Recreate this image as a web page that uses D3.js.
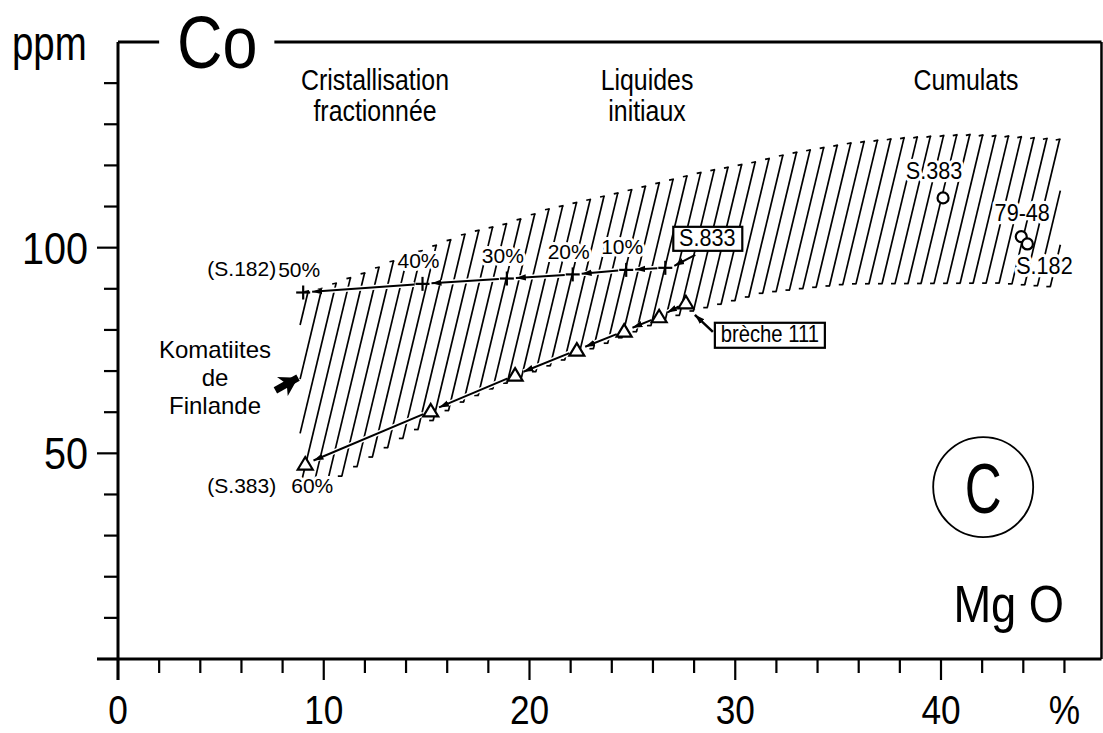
<!DOCTYPE html>
<html>
<script src="https://d3js.org/d3.v7.min.js"></script>

<head>
    <style>
        body {
            margin: 0;
            background-color: #fff;
        }

        svg {
            display: block;
            font-family: "Liberation Sans", Arial, sans-serif;
        }
    </style>
</head>

<body>
</body>
<script>
    const width = 1103,
        height = 733;

    // fractional crystallisation from S.833 (crosses) and from breche 111 (triangles)
    const plusMgO = [9.0, 14.8, 18.9, 22.1, 24.7, 26.6];
    const plusCo = [89.1, 91.2, 92.5, 93.5, 94.6, 95.1];
    const plusLabels = ["50%", "40%", "30%", "20%", "10%"];

    const triMgO = [9.1, 15.2, 19.3, 22.3, 24.6, 26.3, 27.6];
    const triCo = [47.4, 60.3, 69.0, 75.1, 79.7, 83.2, 86.6];

    // cumulates
    const cumMgO = [40.1, 43.9, 44.2];
    const cumCo = [112.1, 102.7, 100.9];
    const cumLabels = ["S.383", "79-48", "S.182"];

    // hatched field of the Finnish komatiites
    const topMgO = [8.9, 10, 11, 12.4, 13.1, 15.1, 17, 19, 20.9, 22.8, 24.7, 26.6, 28.4, 30.9, 32.7, 35.6, 38, 41.2, 43.2, 45.8];
    const topCo = [89.2, 90.2, 92.2, 94.6, 96.3, 99.9, 103.6, 106, 109.4, 111.6, 113.8, 116.2, 118.4, 120.8, 123, 125.5, 126.7, 127.6, 127.2, 126.4];
    const lowMgO = [9.2, 10.9, 12.3, 13.7, 15.2, 16.5, 18.4, 19.3, 22.3, 24.6, 26.3, 27.8, 29.6, 31.4, 33.2, 35.6, 42.9, 45.7];
    const lowCo = [41.1, 44.5, 48.9, 53.2, 57.6, 61.8, 66.1, 67.8, 73.9, 78.3, 81.9, 84.4, 86.6, 89.0, 90.0, 91.2, 91.4, 90.4];

    const xTicks = d3.range(0, 47, 2);
    const xLabels = [0, 10, 20, 30, 40];
    const yTicks = d3.range(0, 150, 10);
    const yLabels = [50, 100];

    const svg = d3.select("body").append("svg").attr("width", width).attr("height", height);
    const x = d3.scaleLinear().domain([0, 40]).range([118, 941]);
    const y = d3.scaleLinear().domain([0, 150]).range([659, 42]);
    const xEnd = 47.8;

    svg.append("defs").append("marker")
        .attr("id", "head")
        .attr("markerUnits", "userSpaceOnUse")
        .attr("markerWidth", 12).attr("markerHeight", 8)
        .attr("refX", 10).attr("refY", 4)
        .attr("orient", "auto")
        .append("path").attr("d", "M0,0.8L10,4L0,7.2Z").attr("fill", "black");
    svg.select("defs").append("marker")
        .attr("id", "bighead")
        .attr("markerUnits", "userSpaceOnUse")
        .attr("markerWidth", 24).attr("markerHeight", 22)
        .attr("refX", 18).attr("refY", 11)
        .attr("orient", "auto")
        .append("path").attr("d", "M0,0L18,11L0,22L5,11Z").attr("fill", "black");

    function line(x1, y1, x2, y2, w) {
        return svg.append("line")
            .attr("x1", x1).attr("y1", y1).attr("x2", x2).attr("y2", y2)
            .attr("stroke", "black").attr("stroke-width", w || 2);
    }

    // narrow lettering: scale glyphs horizontally around the anchor point
    function txt(str, px, py, size, o) {
        o = o || {};
        const t = svg.append("text")
            .attr("transform", `translate(${px},${py}) scale(${o.sx || 1},1)`)
            .attr("font-size", size)
            .attr("text-anchor", o.anchor || "middle")
            .text(str);
        if (o.mid) t.attr("dominant-baseline", "middle");
        if (o.halo) t.attr("stroke", "white").attr("stroke-width", 6 / (o.sx || 1))
            .attr("paint-order", "stroke").attr("stroke-linejoin", "round");
        return t;
    }

    function drawHatch() {
        const up = topMgO.map((m, i) => [x(m), y(topCo[i])]);
        const lo = lowMgO.map((m, i) => [x(m), y(lowCo[i])]);
        const yAt = (c, px) => {
            if (px <= c[0][0]) return c[0][1];
            if (px >= c[c.length - 1][0]) return c[c.length - 1][1];
            let i = 1;
            while (px > c[i][0]) i++;
            const t = (px - c[i - 1][0]) / (c[i][0] - c[i - 1][0]);
            return c[i - 1][1] + t * (c[i][1] - c[i - 1][1]);
        };
        const slant = 0.24, gap = 13;
        const xl = x(8.85), xr = x(45.8);
        const meet = (c, k) => {
            let a = 0, b = height;
            for (let n = 0; n < 40; n++) {
                const m = (a + b) / 2;
                if (m - yAt(c, k + slant * (height - m)) < 0) a = m; else b = m;
            }
            return [k + slant * (height - a), a];
        };
        const g = svg.append("g").attr("stroke", "black").attr("stroke-width", 1.7);
        for (let k = xl - slant * height; k < xr; k += gap) {
            let top = meet(up, k), bot = meet(lo, k);
            let tb = true, bb = true;
            if (top[0] < xl || bot[0] > xr) continue;
            if (bot[0] < xl) { bot = [xl, height - (xl - k) / slant]; bb = false; }
            if (top[0] > xr) { top = [xr, height - (xr - k) / slant]; tb = false; }
            if (bot[1] - top[1] < 4) continue;
            g.append("line").attr("x1", bot[0]).attr("y1", bot[1]).attr("x2", top[0]).attr("y2", top[1]);
            if (tb) g.append("line").attr("x1", top[0] - 4).attr("y1", top[1] + 1).attr("x2", top[0] + 0.8).attr("y2", top[1]);
            if (bb) g.append("line").attr("x1", bot[0] - 4).attr("y1", bot[1]).attr("x2", bot[0] + 0.5).attr("y2", bot[1]);
        }
    }

    function trend(mgo, co) {
        for (let i = 0; i < mgo.length - 1; i++) {
            const x1 = x(mgo[i + 1]), y1 = y(co[i + 1]), x2 = x(mgo[i]), y2 = y(co[i]);
            const d = Math.hypot(x2 - x1, y2 - y1), ux = (x2 - x1) / d, uy = (y2 - y1) / d;
            line(x1 + ux * 8, y1 + uy * 8, x2 - ux * 9, y2 - uy * 9, 5).attr("stroke", "white");
            line(x1 + ux * 8, y1 + uy * 8, x2 - ux * 9, y2 - uy * 9, 2).attr("marker-end", "url(#head)");
        }
    }

    function draw() {
        drawHatch();

        // frame and axes
        line(x(0), y(150), x(0), y(0) + 21, 3);
        line(x(0) - 21, y(0), x(xEnd), y(0), 3);
        line(x(xEnd), y(150), x(xEnd), y(0), 2.5);
        line(x(0), y(150), x(2), y(150), 3);
        line(x(7.6), y(150), x(xEnd), y(150), 3);
        xTicks.forEach(t => line(x(t), y(0), x(t), y(0) + (t % 10 === 0 ? 21 : 14), 2.2));
        yTicks.forEach(t => line(x(0), y(t), x(0) - (t % 50 === 0 ? 21 : 14), y(t), 2.2));
        xLabels.forEach(t => txt(t, x(t), 724, 41, { sx: 0.86 }));
        txt("%", x(46), 724, 41, { sx: 0.86 });
        yLabels.forEach(t => txt(t, x(0) - 30, y(t) + 16, 45, { anchor: "end", sx: 0.88 }));
        txt("ppm", 12, 60, 48, { anchor: "start", sx: 0.8 });
        txt("Co", 177, 68, 74, { anchor: "start", sx: 0.85 });
        txt("Mg O", 1064, 622, 52, { anchor: "end", sx: 0.87 });

        // headings
        [["Cristallisation", "fractionnée", 375], ["Liquides", "initiaux", 647], ["Cumulats", "", 966]]
            .forEach(h => {
                txt(h[0], h[2], 90, 30, { sx: 0.83 });
                txt(h[1], h[2], 121, 30, { sx: 0.83 });
            });

        trend(plusMgO, plusCo);
        trend(triMgO, triCo);

        // crosses
        plusMgO.forEach((m, i) => {
            const px = x(m), py = y(plusCo[i]);
            line(px - 7, py, px + 7, py, 2.2);
            line(px, py - 7, px, py + 7, 2.2);
        });
        plusLabels.forEach((t, i) => {
            txt(t, x(plusMgO[i]) - 4, y(plusCo[i]) - 21, 21, { mid: true, halo: true });
        });
        txt("(S.182)", x(plusMgO[0]) - 27, y(plusCo[0]) - 22, 21, { anchor: "end", mid: true, halo: true });

        // triangles
        svg.selectAll(".tri").data(triMgO).join("path")
            .attr("transform", (m, i) => `translate(${x(m)},${y(triCo[i])})`)
            .attr("d", "M0,-7L7.5,5.5L-7.5,5.5Z")
            .attr("fill", "white").attr("stroke", "black").attr("stroke-width", 2.2);
        txt("60%", x(triMgO[0]) + 7, y(triCo[0]) + 23, 21, { mid: true, halo: true });
        txt("(S.383)", x(triMgO[0]) - 29, y(triCo[0]) + 23, 21, { anchor: "end", mid: true, halo: true });

        // S.833 box
        const sx = x(plusMgO[5]) + 42, sy = y(plusCo[5]) - 29;
        line(sx - 12, sy + 16, x(plusMgO[5]) + 9, y(plusCo[5]) - 2, 2).attr("marker-end", "url(#head)");
        svg.append("rect").attr("x", sx - 34).attr("y", sy - 12).attr("width", 69).attr("height", 24)
            .attr("fill", "white").attr("stroke", "black").attr("stroke-width", 2.2);
        txt("S.833", sx, sy + 1, 24, { mid: true, sx: 0.9 });

        // breche 111 box
        const tx = x(triMgO[6]) + 84, ty = y(triCo[6]) + 32;
        line(tx - 57, ty - 3, x(triMgO[6]) + 9, y(triCo[6]) + 12, 2.5).attr("marker-end", "url(#head)");
        svg.append("rect").attr("x", tx - 55).attr("y", ty - 12).attr("width", 110).attr("height", 25)
            .attr("fill", "white").attr("stroke", "black").attr("stroke-width", 2.2);
        txt("brèche 111", tx, ty + 1, 23, { mid: true, sx: 0.88 });

        // cumulates
        const offs = [[-9, -25], [1, -22], [17, 24]];
        cumLabels.forEach((t, i) => txt(t, x(cumMgO[i]) + offs[i][0], y(cumCo[i]) + offs[i][1], 23,
            { mid: true, halo: true, sx: 0.94 }));
        svg.selectAll(".cum").data(cumMgO).join("circle")
            .attr("cx", d => x(d)).attr("cy", (d, i) => y(cumCo[i])).attr("r", 5.5)
            .attr("fill", "white").attr("stroke", "black").attr("stroke-width", 2.2);

        // Komatiites de Finlande
        ["Komatiites", "de", "Finlande"].forEach((t, i) => txt(t, 215, 352 + i * 28, 24, { mid: true }));
        line(x(7.65), y(65.3), x(8.75), y(68.4), 7).attr("marker-end", "url(#bighead)");

        // panel letter
        svg.append("circle").attr("cx", x(42.05)).attr("cy", y(41.8)).attr("r", 50)
            .attr("fill", "none").attr("stroke", "black").attr("stroke-width", 1.8);
        txt("C", x(42.05), y(41.8) + 26, 71, { sx: 0.72 });
    }

    draw();
</script>

</html>
